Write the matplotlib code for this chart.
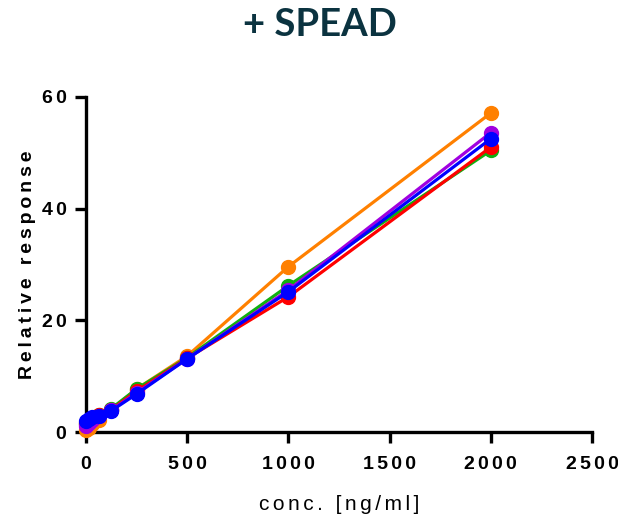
import matplotlib
matplotlib.use("Agg")
import matplotlib.pyplot as plt

conc = [0, 15.6, 31.25, 62.5, 125, 250, 500, 1000, 2000]
series = {
    "orange": [0.3, 0.8, 1.4, 2.2, 4.0, 7.7, 13.6, 29.6, 57.1],
    "green":  [1.5, 2.0, 2.5, 3.0, 4.2, 7.7, 13.3, 26.2, 50.4],
    "red":    [1.6, 2.0, 2.5, 3.0, 4.0, 7.3, 13.2, 24.2, 51.0],
    "purple": [1.0, 1.6, 2.2, 2.8, 3.9, 7.0, 13.1, 25.4, 53.6],
    "blue":   [2.0, 2.3, 2.6, 2.9, 3.8, 6.8, 13.1, 25.1, 52.5],
}
colors = {
    "orange": "#ff8000",
    "green": "#10b010",
    "red": "#ff0000",
    "purple": "#a000e0",
    "blue": "#0000ff",
}
xticks = [0, 500, 1000, 1500, 2000, 2500]
yticks = [0, 20, 40, 60]
title = "+ SPEAD"
xlabel = "conc. [ng/ml]"
ylabel = "Relative response"

def track(s, sp):
    return sp.join(s)

fam = ["Liberation Sans", "DejaVu Sans"]
SIX = "\u2006"   # six-per-em space
THIN = "\u2009"  # thin space

fig = plt.figure(figsize=(6.18, 5.18), dpi=100)
ax = fig.add_axes([0.139, 0.166, 0.819, 0.647])

for name, vals in series.items():
    ax.plot(conc, vals, color=colors[name], lw=2.3, marker="o", ms=10,
            clip_on=False, zorder=3)

ax.set_xlim(0, 2500)
ax.set_ylim(0, 60)
ax.set_xticks(xticks)
ax.set_xticklabels([track(str(v), SIX) for v in xticks], family=fam,
                   fontweight="bold", fontsize=14)
ax.set_yticks(yticks)
ax.set_yticklabels([track(str(v), SIX) for v in yticks], family=fam,
                   fontweight="bold", fontsize=14)
for s in ["top", "right"]:
    ax.spines[s].set_visible(False)
for s in ["left", "bottom"]:
    ax.spines[s].set_linewidth(2.4)
ax.tick_params(axis="both", direction="out", length=8, width=2.4)
ax.tick_params(axis="x", pad=9)
ax.tick_params(axis="y", pad=6)

ax.set_xlabel(track(xlabel, SIX), fontsize=15, family=fam, labelpad=16)
ax.set_ylabel(track(ylabel, THIN), fontsize=14, family=fam, fontweight="bold",
              labelpad=4)

fig.text(0.518, 0.951, title, ha="center", va="center", fontsize=27.5,
         fontweight="bold", family="Lato", color="#0b3340")

fig.savefig("out.png", dpi=100)
